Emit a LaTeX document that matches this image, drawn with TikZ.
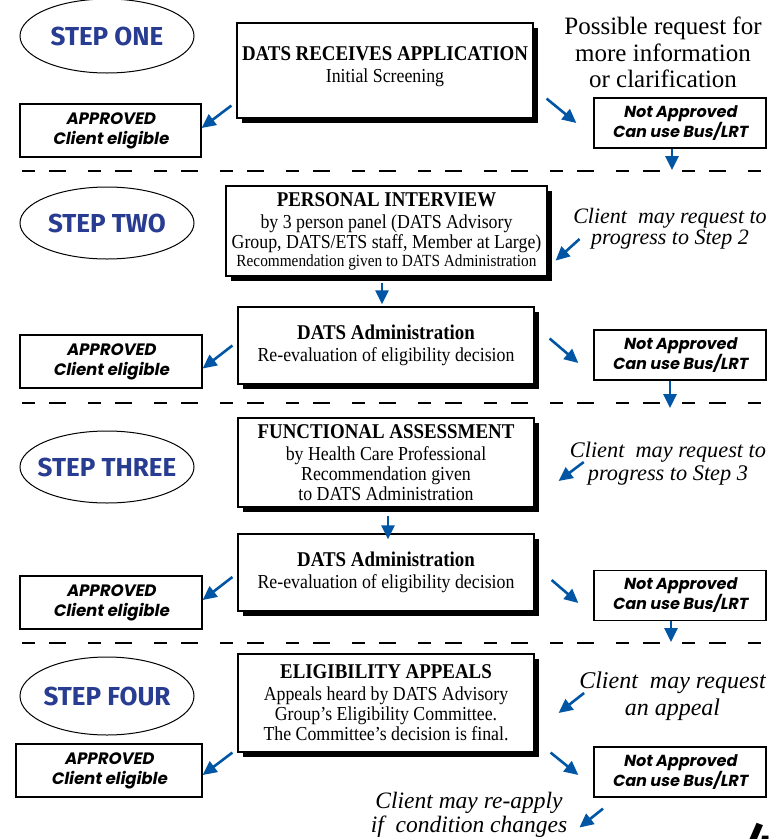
\documentclass[tikz,border=0pt]{standalone}
\usepackage{fontspec}
\setmainfont{Liberation Serif}
\newfontfamily\boxfont{Liberation Serif}[FakeStretch=0.9]
\newfontfamily\stepfont{Fira Sans}
\newfontfamily\signfont{Poppins}[FakeSlant=0.18]
\usetikzlibrary{shapes.geometric,shadows,arrows.meta}
\definecolor{stepblue}{RGB}{40,60,145}
\definecolor{arrowblue}{RGB}{0,85,165}
\newcommand{\textsz}[2]{\fontsize{#1}{#2}\selectfont}
\newcommand{\boxtitle}[1]{{\bfseries\textsz{21}{22}#1}\\[2pt]}
\tikzset{
  stepoval/.style={ellipse, draw, line width=1pt, minimum width=174pt, inner sep=0pt, text=stepblue,
    font=\stepfont\bfseries\textsz{26}{28}},
  mainbox/.style={rectangle, draw, fill=white, line width=1.2pt, align=center, inner sep=2pt,
    font=\boxfont\textsz{19.8}{20},
    drop shadow={shadow xshift=5pt, shadow yshift=-5pt, opacity=1, fill=black}},
  okbox/.style={draw, line width=1.3pt, minimum height=53pt, align=center, inner sep=0pt,
    font=\signfont\bfseries\textsz{16.5}{20}},
  nobox/.style={okbox, minimum width=172pt, minimum height=50pt, font=\signfont\bfseries\textsz{16}{20}},
  remark/.style={align=center, inner sep=0pt, font=\itshape\textsz{22}{21}},
  flow/.style={draw=arrowblue, line width=2.6pt, -{Triangle[width=13pt,length=14pt]}},
  divider/.style={line width=2.8pt, dash pattern=on 13pt off 14pt on 17pt off 22pt}
}
\begin{document}
\begin{tikzpicture}[x=1pt,y=-1pt]
\useasboundingbox (0,0) rectangle (771,839);
\clip (0,0) rectangle (771,839);
% dividers between the steps
\foreach \y in {171,403,643}
  \draw[divider] (22,\y) -- (771,\y);
\coordinate (cross1) at (672,170);
\coordinate (cross2) at (670,408);
\coordinate (cross3) at (671,642);
% step ovals
\foreach \n/\y/\h/\t in {1/36/74/ONE,2/223/72/TWO,3/467/72/THREE,4/696/78/FOUR}
  \node[stepoval, minimum height=\h pt] (step\n) at (107,\y) {\makebox[0pt]{STEP \t}};
% outcome boxes
\foreach \n/\x/\y/\w in {1/110.5/130.5/181,2/111/361.5/182,3/111/602.5/182,4/109/770.5/186}
  \node[okbox, minimum width=\w pt] (ok\n) at (\x,\y) {APPROVED\\Client eligible};
\foreach \n/\y in {1/123,2/355,3/595.5,4/772}
  \node[nobox] (no\n) at (680,\y) {Not Approved\\Can use Bus/LRT};
% main boxes
\node[mainbox, minimum width=296pt, minimum height=95pt] (recv) at (385,70.5)
  {\boxtitle{DATS RECEIVES APPLICATION}Initial Screening\\[-8pt]\mbox{}};
\node[mainbox, minimum width=321pt, minimum height=90pt] (interview) at (386.5,231)
  {\boxtitle{PERSONAL INTERVIEW}by 3 person panel (DATS Advisory\\Group, DATS/ETS staff, Member at Large)\\[-2pt]
   {\textsz{17}{18}Recommendation given to DATS Administration}};
\node[mainbox, minimum width=296pt, minimum height=77pt] (admin2) at (386,345.5)
  {\boxtitle{DATS Administration}Re-evaluation of eligibility decision};
\node[mainbox, minimum width=296pt, minimum height=89pt] (assess) at (386,462.5)
  {\boxtitle{FUNCTIONAL ASSESSMENT}by Health Care Professional\\Recommendation given\\to DATS Administration};
\node[mainbox, minimum width=296pt, minimum height=77pt] (admin3) at (386,572.5)
  {\boxtitle{DATS Administration}Re-evaluation of eligibility decision};
\node[mainbox, minimum width=296pt, minimum height=98pt] (appeal) at (386,703)
  {\boxtitle{ELIGIBILITY APPEALS}Appeals heard by DATS Advisory\\Group’s Eligibility Committee.\\The Committee’s decision is final.};
% side remarks
\node[remark, font=\upshape\textsz{25}{26.5}] (more) at (663,52.5) {Possible request for\\more information\\or clarification};
\node[remark] (cl2) at (670,228.5) {Client\ \ may request to\\progress to Step 2};
\node[remark, font=\itshape\textsz{22.3}{23}] (cl3) at (668,463.5) {Client\ \ may request to\\progress to Step 3};
\node[remark, font=\itshape\textsz{24}{27}] (cl4) at (672.5,696) {Client\ \ may request\\an appeal};
\node[remark, font=\itshape\textsz{23.5}{24}] (reapply) at (469,814.5) {Client may re-apply\\if\ \ condition changes};
\node[anchor=north west, inner sep=0pt, font=\stepfont\bfseries\textsz{48}{48}] (pagenum) at (746,823) {4};
% step one
\draw[flow] ([shift={(-5,-13)}]recv.south west) -- ([shift={(0,-2.5)}]ok1.east);
\draw[flow] ([shift={(13,-20)}]recv.south east) -- ([shift={(-17,0)}]no1.west);
\draw[flow] (no1.south -| cross1) -- (cross1);
% step two
\draw[flow] ([shift={(6.5,10.5)}]cl2.west) -- ([shift={(8,-16)}]interview.south east);
\draw[flow] ([shift={(-4.5,6)}]interview.south) -- ([shift={(-4,-2)}]admin2.north);
\draw[flow] ([shift={(-5,0)}]admin2.west) -- ([shift={(0,7)}]ok2.east);
\draw[flow] ([shift={(15,-7)}]admin2.east) -- ([shift={(-15,8)}]no2.west);
\draw[flow] (no2.south -| cross2) -- (cross2);
% step three
\draw[flow] ([shift={(14,-1.5)}]cl3.west) -- ([shift={(24,18.5)}]assess.east);
\draw[flow] ([shift={(2,8)}]assess.south) -- ([shift={(2,6)}]admin3.north);
\draw[flow] ([shift={(-5,4.5)}]admin3.west) -- ([shift={(0,-2.5)}]ok3.east);
\draw[flow] ([shift={(17,7.5)}]admin3.east) -- ([shift={(-15,7.5)}]no3.west);
\draw[flow] (no3.south -| cross3) -- (cross3);
% step four
\draw[flow] ([shift={(5,-3)}]cl4.west) -- ([shift={(24,10)}]appeal.east);
\draw[flow] ([shift={(-5,0)}]appeal.south west) -- ([shift={(0,4.5)}]ok4.east);
\draw[flow] ([shift={(16,0)}]appeal.south east) -- ([shift={(-15,3)}]no4.west);
\draw[flow] ([shift={(-77,11)}]no4.south) -- ([shift={(12,13)}]reapply.east);
\end{tikzpicture}
\end{document}
